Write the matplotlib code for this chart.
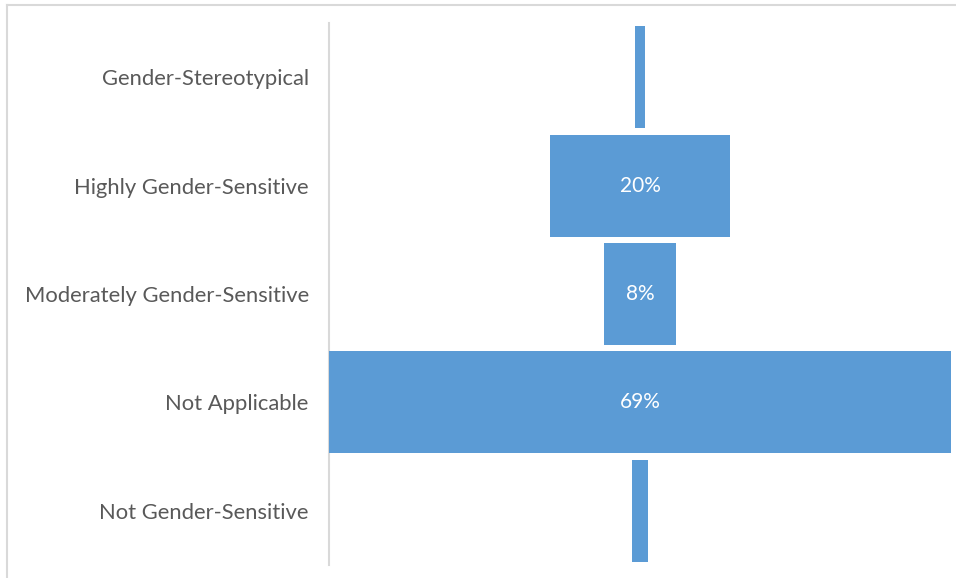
import matplotlib.pyplot as plt
from matplotlib.lines import Line2D

categories = ['Gender-Stereotypical', 'Highly Gender-Sensitive',
              'Moderately Gender-Sensitive', 'Not Applicable',
              'Not Gender-Sensitive']
shares = [1.2, 20, 8, 69, 1.8]
labels = ['', '20%', '8%', '69%', '']

plt.rcParams['font.family'] = ['Lato', 'DejaVu Sans']

fig = plt.figure(figsize=(9.56, 5.78), dpi=100)
ax = fig.add_axes([329 / 956, 13 / 578, 622 / 956, 542 / 578])

ypos = list(range(len(categories)))
lefts = [-s / 2 for s in shares]
bars = ax.barh(ypos, shares, left=lefts, height=0.94, color='#5B9BD5')

for b, lab in zip(bars, labels):
    if lab:
        ax.text(0, b.get_y() + b.get_height() / 2, lab, ha='center', va='center',
                color='white', fontsize=15)

ax.set_xlim(-34.5, 34.5)
ax.set_ylim(len(categories) - 0.5, -0.5)
ax.set_yticks(ypos)
ax.set_yticklabels(categories, fontsize=15.8, color='#595959')
ax.tick_params(axis='y', length=0, pad=14.5)
ax.set_xticks([])
for side in ['top', 'right', 'bottom']:
    ax.spines[side].set_visible(False)
ax.spines['left'].set_color('#d9d9d9')
ax.spines['left'].set_linewidth(1.5)
ax.spines['left'].set_zorder(0)

# light frame along the top and left edge of the figure
fig.add_artist(Line2D([7 / 956, 1], [1 - 5 / 578, 1 - 5 / 578],
                      transform=fig.transFigure, color='#d9d9d9', lw=1.5))
fig.add_artist(Line2D([7 / 956, 7 / 956], [0, 1 - 5 / 578],
                      transform=fig.transFigure, color='#d9d9d9', lw=1.5))

fig.savefig('out.png', dpi=100)
